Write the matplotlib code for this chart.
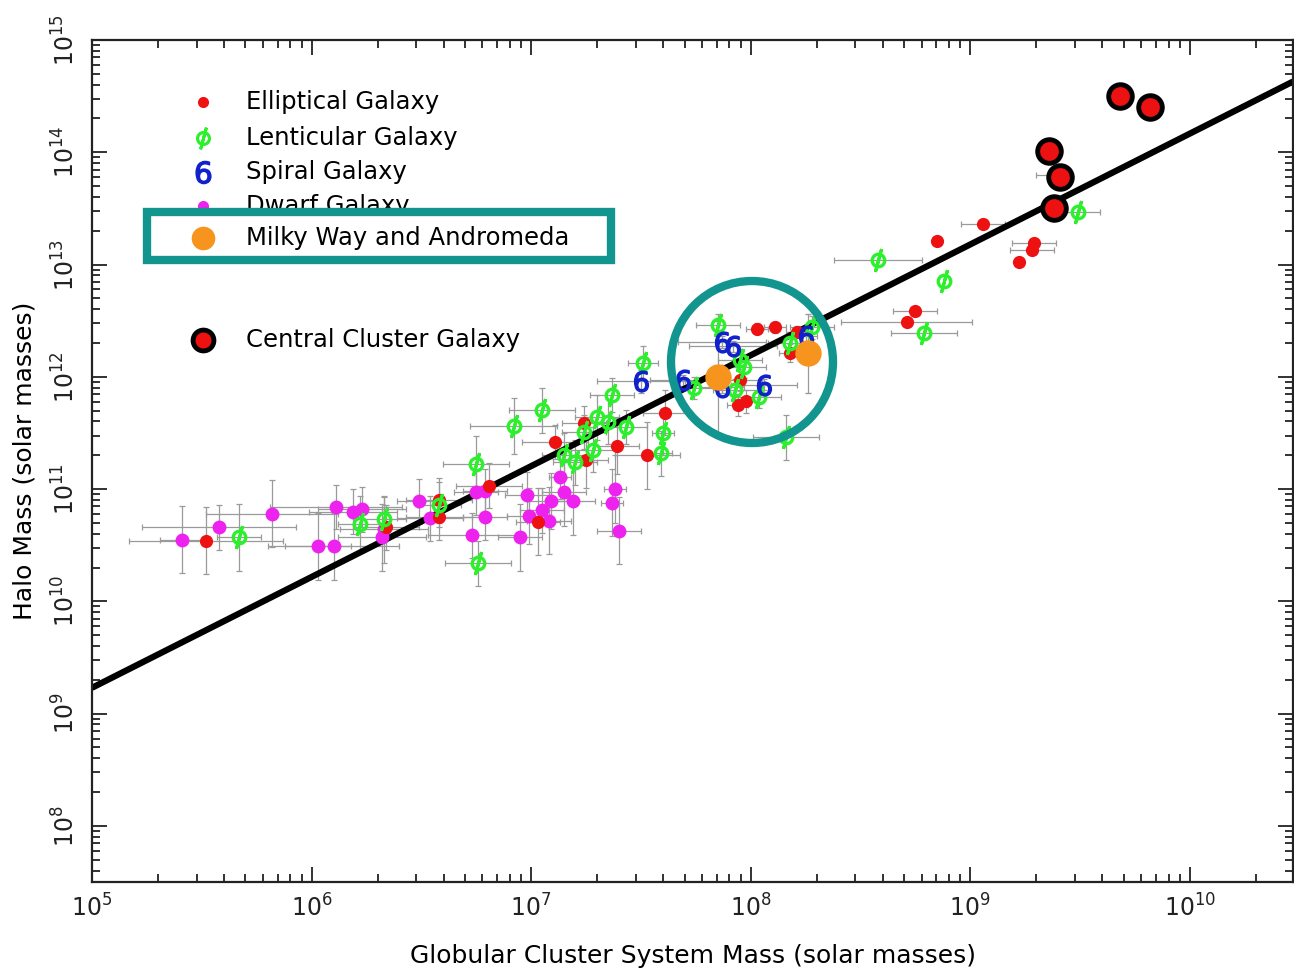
import numpy as np
import matplotlib
matplotlib.use("Agg")
import matplotlib.pyplot as plt
from matplotlib.patches import Rectangle, Ellipse
from matplotlib.ticker import LogLocator, NullFormatter, FixedLocator

# values are log10(solar masses): x = GC system mass, y = halo mass
# error columns are in dex
ell_x = [5.52, 6.34, 6.58, 6.58, 6.81, 7.03, 7.11, 7.24, 7.25, 7.39, 7.53, 7.61, 7.95, 7.94,
         7.98, 8.03, 8.11, 8.21, 8.18, 8.71, 8.75, 8.85, 9.06, 9.22, 9.28, 9.29, 9.38]
ell_y = [10.54, 10.66, 10.90, 10.75, 11.03, 10.71, 11.42, 11.59, 11.26, 11.38, 11.30, 11.68, 11.97, 11.75,
         11.78, 12.43, 12.44, 12.40, 12.21, 12.49, 12.59, 13.21, 13.36, 13.02, 13.13, 13.19, 13.80]
ell_xe = [0.35, 0.15, 0.15, 0.15, 0.15, 0.10, 0.15, 0.10, 0.10, 0.10, 0.15, 0.10, 0.10, 0.05,
          0.05, 0.05, 0.05, 0.05, 0.05, 0.30, 0.10, 0.00, 0.10, 0.00, 0.10, 0.10, 0.08]
ell_ye = [0.30, 0.20, 0.20, 0.20, 0.20, 0.30, 0.15, 0.15, 0.25, 0.25, 0.30, 0.20, 0.10, 0.10,
          0.10, 0.05, 0.05, 0.05, 0.08, 0.00, 0.00, 0.00, 0.00, 0.00, 0.00, 0.00, 0.00]

len_x = [5.67, 6.22, 6.33, 6.58, 6.75, 6.76, 6.92, 7.05, 7.15, 7.20, 7.24, 7.28, 7.30, 7.35, 7.37, 7.43,
         7.51, 7.60, 7.59, 7.74, 7.85, 7.95, 7.97, 7.93, 8.04, 8.16, 8.18, 8.28, 8.58, 8.79, 8.88, 9.49]
len_y = [10.57, 10.69, 10.73, 10.86, 11.22, 10.34, 11.56, 11.70, 11.30, 11.24, 11.51, 11.35, 11.64, 11.60, 11.84, 11.55,
         12.12, 11.50, 11.32, 11.90, 12.46, 12.15, 12.09, 11.88, 11.82, 11.46, 12.30, 12.44, 13.04, 12.39, 12.85, 13.47]
len_xe = [0.10, 0.10, 0.10, 0.10, 0.15, 0.15, 0.20, 0.15, 0.10, 0.10, 0.10, 0.10, 0.10, 0.10, 0.10, 0.10,
          0.07, 0.05, 0.05, 0.10, 0.10, 0.10, 0.10, 0.10, 0.10, 0.15, 0.10, 0.10, 0.20, 0.15, 0.00, 0.10]
len_ye = [0.30, 0.25, 0.20, 0.20, 0.25, 0.20, 0.25, 0.20, 0.20, 0.20, 0.15, 0.20, 0.20, 0.20, 0.15, 0.15,
          0.15, 0.20, 0.20, 0.10, 0.10, 0.10, 0.10, 0.10, 0.10, 0.20, 0.10, 0.10, 0.05, 0.05, 0.05, 0.05]

spi_x = [7.50, 7.69, 7.87, 7.92, 7.87, 8.06, 8.25]
spi_y = [11.96, 11.97, 12.31, 12.27, 11.91, 11.93, 12.36]
spi_xe = [0.20, 0.15, 0.20, 0.20, 0.10, 0.15, 0.05]
spi_ye = [0.10, 0.05, 0.05, 0.05, 0.05, 0.05, 0.05]

dwf_x = [5.41, 5.58, 5.82, 6.03, 6.10, 6.11, 6.19, 6.23, 6.32, 6.33, 6.49, 6.54, 6.73, 6.75,
         6.79, 6.79, 6.95, 6.98, 6.99, 7.05, 7.08, 7.09, 7.13, 7.15, 7.19, 7.38, 7.37, 7.40]
dwf_y = [10.55, 10.66, 10.78, 10.49, 10.49, 10.84, 10.80, 10.82, 10.57, 10.64, 10.89, 10.74, 10.59, 10.97,
         10.98, 10.75, 10.57, 10.95, 10.76, 10.81, 10.72, 10.89, 11.11, 10.97, 10.89, 11.00, 10.88, 10.63]
dwf_xe = [0.10, 0.35, 0.30, 0.15, 0.30, 0.30, 0.20, 0.20, 0.20, 0.20, 0.10, 0.15, 0.20, 0.10,
          0.10, 0.10, 0.10, 0.10, 0.10, 0.10, 0.10, 0.10, 0.05, 0.10, 0.10, 0.05, 0.05, 0.10]
dwf_ye = [0.30, 0.20, 0.30, 0.30, 0.30, 0.20, 0.20, 0.20, 0.30, 0.30, 0.20, 0.20, 0.20, 0.20,
          0.20, 0.20, 0.30, 0.20, 0.25, 0.20, 0.30, 0.25, 0.20, 0.30, 0.30, 0.30, 0.30, 0.30]

mw_x = [7.85, 8.26]
mw_y = [12.00, 12.21]
mw_ye = [0.50, 0.35]

ccg_x = [9.36, 9.41, 9.38, 9.68, 9.82]
ccg_y = [14.01, 13.78, 13.50, 14.50, 14.40]

fit_x = [5.0, 10.47]
fit_y = [9.23, 14.63]

x_decades = [5, 6, 7, 8, 9, 10]
y_decades = [8, 9, 10, 11, 12, 13, 14, 15]

legend_labels = ["Elliptical Galaxy", "Lenticular Galaxy", "Spiral Galaxy", "Dwarf Galaxy",
                 "Milky Way and Andromeda", "Central Cluster Galaxy"]

RED = "#ee1111"
GREEN = "#2bf02b"
BLUE = "#1020cc"
MAGENTA = "#ee22ee"
ORANGE = "#f7941d"
TEAL = "#13958f"
GREY = "#9a9a9a"


def err(vals, dex):
    v = np.array(vals)
    d = np.array(dex)
    return [10**v - 10**(v - d), 10**(v + d) - 10**v]


def lenticular(ax, x, y, size=1.0, **kw):
    # open circle with a slanted stroke, like the original "phi" symbol
    ax.plot(x, y, "o", ls="none", mfc="none", mec=GREEN, mew=2.4 * size, ms=9 * size, **kw)
    ax.plot(x, y, marker=(2, 2, -15), ls="none", mec=GREEN, mew=2.2 * size, ms=17 * size, **kw)


fig = plt.figure(figsize=(12.94, 9.73), dpi=100)
ax = fig.add_axes([92 / 1294, 91 / 973, 1201 / 1294, 842 / 973])
ax.set_xscale("log")
ax.set_yscale("log")
ax.set_xlim(1e5, 10**10.47)
ax.set_ylim(10**7.5, 1e15)

# error bars first, under the fit line
for xs, ys, xe, ye in [(ell_x, ell_y, ell_xe, ell_ye), (len_x, len_y, len_xe, len_ye),
                       (spi_x, spi_y, spi_xe, spi_ye), (dwf_x, dwf_y, dwf_xe, dwf_ye)]:
    ax.errorbar(10**np.array(xs), 10**np.array(ys), xerr=err(xs, xe), yerr=err(ys, ye),
                fmt="none", ecolor=GREY, elinewidth=0.9, capsize=2, capthick=0.9, zorder=1)
ax.errorbar(10**np.array(mw_x), 10**np.array(mw_y), yerr=err(mw_y, mw_ye),
            fmt="none", ecolor=GREY, elinewidth=0.9, capsize=2, zorder=1)

ax.plot(10**np.array(fit_x), 10**np.array(fit_y), color="black", lw=4.5, zorder=2, solid_capstyle="butt")

ax.plot(10**np.array(dwf_x), 10**np.array(dwf_y), "o", color=MAGENTA, ms=10, mec="none", zorder=3)
ax.plot(10**np.array(ell_x), 10**np.array(ell_y), "o", color=RED, ms=9.5, mec="none", zorder=3)
lenticular(ax, 10**np.array(len_x), 10**np.array(len_y), zorder=3)
ax.plot(10**np.array(spi_x), 10**np.array(spi_y), marker=r"$6$", ls="none", color=BLUE, ms=15, zorder=4)
ax.plot(10**np.array(mw_x), 10**np.array(mw_y), "o", color=ORANGE, ms=19, mec="none", zorder=5)
ax.plot(10**np.array(ccg_x), 10**np.array(ccg_y), "o", color=RED, mec="black", mew=3.5, ms=17, zorder=5)

# axes styling
for s in ax.spines.values():
    s.set_linewidth(1.6)
    s.set_color("#222222")
ax.xaxis.set_major_locator(FixedLocator([10.0**k for k in x_decades]))
ax.yaxis.set_major_locator(FixedLocator([10.0**k for k in y_decades]))
ax.xaxis.set_minor_locator(LogLocator(base=10, subs=np.arange(2, 10), numticks=20))
ax.yaxis.set_minor_locator(LogLocator(base=10, subs=np.arange(2, 10), numticks=20))
ax.xaxis.set_minor_formatter(NullFormatter())
ax.yaxis.set_minor_formatter(NullFormatter())
ax.tick_params(which="both", direction="in", top=True, right=True, width=1.3, colors="#222222")
ax.tick_params(which="major", length=11, labelsize=17, pad=9)
ax.tick_params(which="minor", length=6)
ax.tick_params(axis="y", which="major", labelrotation=90)
for lab in ax.get_yticklabels():
    lab.set_va("center")

ax.set_xlabel("Globular Cluster System Mass (solar masses)", fontsize=18, va="center")
ax.xaxis.set_label_coords(0.5, (882 - 956) / 842)
ax.set_ylabel("Halo Mass (solar masses)", fontsize=18, va="center")
ax.yaxis.set_label_coords((25 - 92) / 1201, 0.5)

# hand-drawn style key
kx, tx = 0.0924, 0.128
rows = [0.926, 0.884, 0.843, 0.803, 0.765, 0.644]
key_styles = [
    dict(marker="o", color=RED, ms=8, mec="none"),
    None,
    dict(marker=r"$6$", color=BLUE, ms=16),
    dict(marker="o", color=MAGENTA, ms=8, mec="none"),
    dict(marker="o", color=ORANGE, ms=17, mec="none"),
    dict(marker="o", color=RED, mec="black", mew=3.5, ms=15),
]
for i, (lab, st) in enumerate(zip(legend_labels, key_styles)):
    z = 7 if i >= 4 else 6
    if st is None:
        lenticular(ax, [kx], [rows[i]], size=0.95, transform=ax.transAxes, zorder=z)
    else:
        ax.plot([kx], [rows[i]], ls="none", transform=ax.transAxes, zorder=z, **st)
    ax.text(tx, rows[i], lab, transform=ax.transAxes, fontsize=17.5, va="center", ha="left", zorder=z)

# highlight box over the MW/M31 entry, hiding the lower half of the dwarf row
ax.add_patch(Rectangle(((147 - 92) / 1201, (882 - 260) / 842), 464 / 1201, 48 / 842,
                       transform=ax.transAxes, facecolor="white", edgecolor=TEAL, lw=6, zorder=6.5))

# highlight circle around the Milky Way and Andromeda points
ax.add_patch(Ellipse(((752 - 92) / 1201, (882 - 362) / 842), 162 / 1201, 162 / 842,
                     transform=ax.transAxes, facecolor="none", edgecolor=TEAL, lw=6, zorder=8))

fig.savefig("out.png", dpi=100)
